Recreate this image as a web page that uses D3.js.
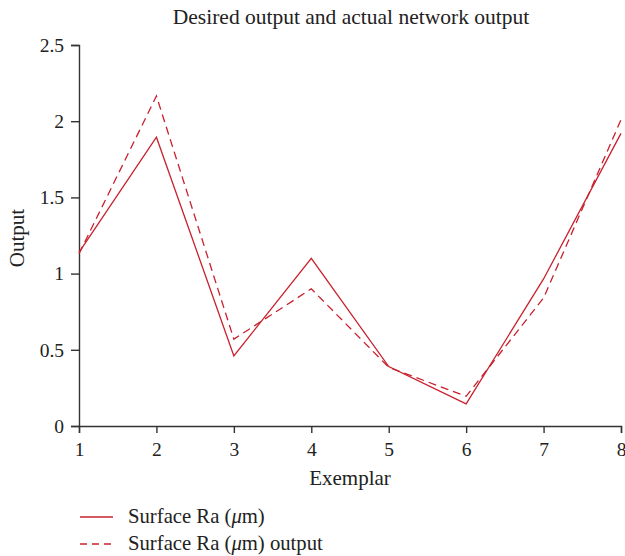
<!DOCTYPE html>
<html><head><meta charset="utf-8">
<script src="https://cdn.jsdelivr.net/npm/d3@7"></script>
<style>body{margin:0;background:#fff}svg{font-family:"Liberation Serif","DejaVu Serif",serif}</style>
</head><body><svg id="c" width="625" height="556"></svg>
<script>
const exemplars = [1,2,3,4,5,6,7,8];
const desired = [1.14,1.895,0.46,1.10,0.39,0.145,0.965,1.92];
const actual = [1.13,2.165,0.57,0.90,0.385,0.195,0.84,2.01];
const yTicks = [0,0.5,1,1.5,2,2.5];
const yTickLabels = ["0","0.5","1","1.5","2","2.5"];
const seriesNames = [["Surface Ra (","\u03bc","m)"],["Surface Ra (","\u03bc","m) output"]];
const color = "#c8202c";

const svg = d3.select("#c");
const x = d3.scaleLinear().domain([1,8]).range([79,621]);
const y = d3.scaleLinear().domain([0,2.5]).range([426,45]);

const xa = svg.append("g").attr("transform","translate(0,426)")
  .call(d3.axisBottom(x).tickValues(exemplars).tickFormat(d3.format("d")).tickSizeOuter(0).tickSize(7));
const ya = svg.append("g").attr("transform","translate(79,0)")
  .call(d3.axisLeft(y).tickValues(yTicks).tickFormat((d,i)=>yTickLabels[i]).tickSizeOuter(0).tickSize(8));
[xa,ya].forEach(g=>{
  g.selectAll("path,line").attr("stroke","#333").attr("stroke-width",1.4);
  g.selectAll("text").attr("font-size",19.5).attr("fill","#222").attr("font-family","Liberation Serif, serif");
});
xa.selectAll("text").attr("dy","1.05em");
ya.selectAll("text").attr("x",-15);

const line = d3.line().x((d,i)=>x(exemplars[i])).y(d=>y(d));
svg.append("path").datum(desired).attr("d",line).attr("fill","none").attr("stroke",color).attr("stroke-width",1.3);
svg.append("path").datum(actual).attr("d",line).attr("fill","none").attr("stroke",color).attr("stroke-width",1.3).attr("stroke-dasharray","8,5");

svg.append("text").attr("x",351).attr("y",24).attr("text-anchor","middle").attr("font-size",21.5).attr("fill","#222").text("Desired output and actual network output");
svg.append("text").attr("x",350).attr("y",485).attr("text-anchor","middle").attr("font-size",21).attr("fill","#222").text("Exemplar");
svg.append("text").attr("transform","translate(24,238) rotate(-90)").attr("text-anchor","middle").attr("font-size",21).attr("fill","#222").text("Output");

const leg = svg.append("g");
seriesNames.forEach((n,i)=>{
  const yy = 517 + i*27;
  leg.append("line").attr("x1",80).attr("x2",113).attr("y1",yy).attr("y2",yy).attr("stroke",color).attr("stroke-width",1.3)
    .attr("stroke-dasharray", i===1 ? "7,5" : null);
  const t = leg.append("text").attr("x",128).attr("y",yy+6).attr("font-size",20.7).attr("fill","#222");
  t.append("tspan").text(n[0]);
  t.append("tspan").attr("font-style","italic").text(n[1]);
  t.append("tspan").text(n[2]);
});
</script></body></html>
